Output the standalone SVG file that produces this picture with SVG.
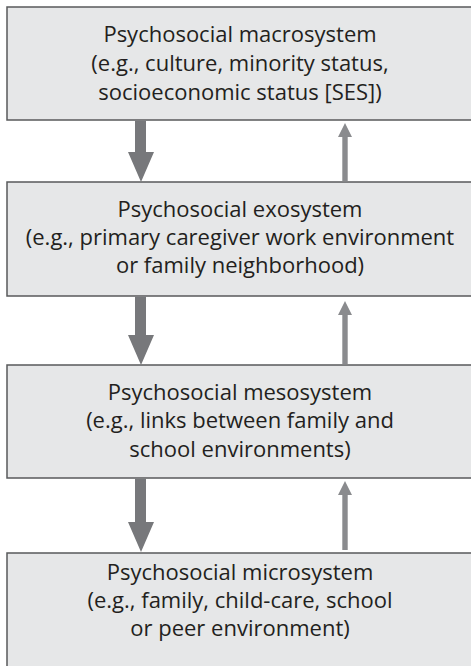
<svg xmlns="http://www.w3.org/2000/svg" width="471" height="666" viewBox="0 0 471 666">
<style>
.box{fill:#e6e7e8;stroke:#58595b;stroke-width:1.5}
.t{font-family:"Open Sans","Liberation Sans",sans-serif;font-size:22px;fill:#231f20;text-anchor:middle}
.thick{fill:#77787b}
.thin{fill:#8a8b8e}
</style>
<rect width="471" height="666" fill="#fff"/>
<g id="macrosystem">
<rect class="box" x="7" y="7" width="470" height="113"/>
<text class="t" x="240" y="42">Psychosocial macrosystem</text>
<text class="t" x="240" y="71">(e.g., culture, minority status,</text>
<text class="t" x="240" y="100">socioeconomic status [SES])</text>
</g>
<g id="exosystem">
<rect class="box" x="7" y="182" width="470" height="114"/>
<text class="t" x="240" y="217">Psychosocial exosystem</text>
<text class="t" x="240" y="245">(e.g., primary caregiver work environment</text>
<text class="t" x="240" y="273">or family neighborhood)</text>
</g>
<g id="mesosystem">
<rect class="box" x="7" y="365" width="470" height="113"/>
<text class="t" x="240" y="400">Psychosocial mesosystem</text>
<text class="t" x="240" y="428">(e.g., links between family and</text>
<text class="t" x="240" y="457">school environments)</text>
</g>
<g id="microsystem">
<rect class="box" x="7" y="553" width="470" height="130"/>
<text class="t" x="240" y="580">Psychosocial microsystem</text>
<text class="t" x="240" y="608">(e.g., family, child-care, school</text>
<text class="t" x="240" y="636">or peer environment)</text>
</g>
<g id="connectors">
<polygon class="thick" points="135,120.8 146,120.8 146,152 154,152 141,182 128,152 135,152"/>
<polygon class="thin" points="342.3,181.2 347.7,181.2 347.7,137 352,137 345,123 338,137 342.3,137"/>
<polygon class="thick" points="135,296.8 146,296.8 146,335 154,335 141,365 128,335 135,335"/>
<polygon class="thin" points="342.3,364.2 347.7,364.2 347.7,315 352,315 345,301 338,315 342.3,315"/>
<polygon class="thick" points="135,478.8 146,478.8 146,522 154,522 141,552 128,522 135,522"/>
<polygon class="thin" points="342.3,550 347.7,550 347.7,495 352,495 345,481 338,495 342.3,495"/>
</g>
</svg>
